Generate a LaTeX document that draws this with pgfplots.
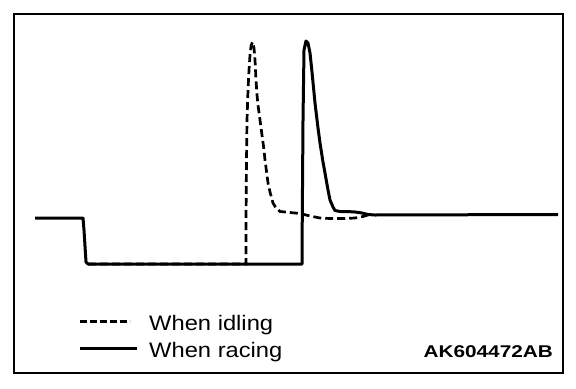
\documentclass[border=0pt]{standalone}
\usepackage{pgfplots}
\pgfplotsset{compat=1.18}
\usepackage{fontspec}
\setmainfont{Liberation Sans}
\newfontfamily\legfont[FakeStretch=1.13]{Liberation Sans}
\newfontfamily\codefont[FakeStretch=1.22]{Liberation Sans Bold}
\begin{document}
\begin{tikzpicture}
\begin{axis}[
  x=1bp, y=1bp,
  xmin=14, xmax=563, ymin=15, ymax=374,
  axis line style={line width=2.6bp},
  ticks=none, clip=false,
  legend cell align=left,
  legend image code/.code={\draw[#1] (0bp,4bp) -- (57bp,4bp);},
  legend style={at={(axis cs:78,73)}, anchor=north west, draw=none, fill=none,
    inner sep=0pt, row sep=7bp, column sep=11bp,
    nodes={inner sep=0pt, text height=15bp, text depth=5bp, font=\legfont\fontsize{21bp}{24bp}\selectfont}},
]
\path (axis cs:0,0) rectangle (axis cs:576,388);
% idling (dashed); y values = 388 - pixel row
\addplot[line width=2.7bp, dash pattern=on 8bp off 4bp, black,
  legend image code/.code={\draw[line width=2.7bp, dash pattern=on 7bp off 3bp] (0bp,4bp) -- (50bp,4bp);}] coordinates {
(88,124)(246,124)(246,168)(246.5,228)(247,268)(248,298)(249,318)(250,333)(251,342)(252.5,346)
(254,340)(255,328)(256,308)(257,293)(258,283)(260,268)(262,253)(264,238)(265,228)(267,213)
(268,205)(270,196)(273,185)(276,180)(280,176.5)(290,175.5)(300,174.5)(310,172)(320,170)
(330,169.5)(345,169.5)(355,170)(363,171.5)(368,173)
};
\addlegendentry{When idling}
% racing (solid)
\addplot[line width=3bp, black, line join=round] coordinates {
(35,170)(83,170)(84,158)(86,126)(88,124)(302,124)(302,133)(303,268)(304,338)(306,347)
(308,345)(310,335)(312,316)(315,285)(318,260)(320,245)(323,226)(325,215)(328,198)(330,188)
(333,181)(335,177.5)(340,176.5)(347,176.5)(355,176)(362,175)(368,173.5)(375,173)(558,173.5)
};
\addlegendentry{When racing}
\node[anchor=base east, inner sep=0pt, font=\codefont\fontsize{17bp}{20bp}\selectfont] at (axis cs:553,31) {AK604472AB};
\end{axis}
\end{tikzpicture}
\end{document}
